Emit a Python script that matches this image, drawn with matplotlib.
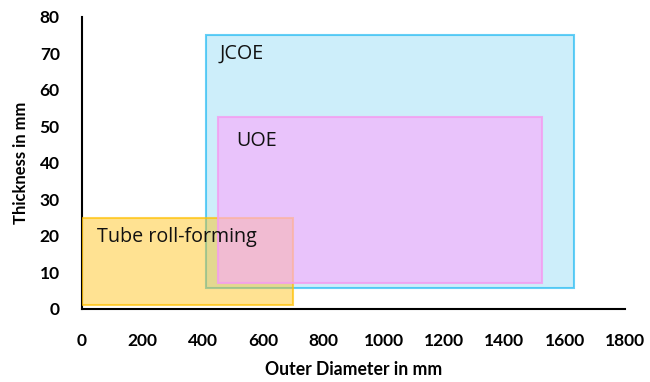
import matplotlib.pyplot as plt
from matplotlib.patches import Rectangle

plt.rcParams['font.family'] = ['Lato', 'DejaVu Sans']

# Forming process windows: outer diameter range (mm) and thickness range (mm)
processes = ['JCOE', 'Tube roll-forming', 'UOE']
od_min = [410, 0, 450]
od_max = [1630, 700, 1525]
t_min = [5.7, 1, 7]
t_max = [75, 25, 52.6]
label_x = [457, 50, 510]
label_y = [69.9, 19.7, 46]

face_colors = ['#13B2E8', '#FFBF0F', '#FBA9FD']
face_alpha = [0.21, 0.45, 0.61]
edge_colors = ['#00B0F0', '#FFC000', '#F49CF0']
edge_alpha = [0.6, 0.7, 0.8]

fig = plt.figure(figsize=(6.5, 3.82), dpi=100, facecolor='white')
ax = fig.add_axes([0.1262, 0.1911, 0.8353, 0.7644])

for i, name in enumerate(processes):
    w = od_max[i] - od_min[i]
    h = t_max[i] - t_min[i]
    ax.add_patch(Rectangle((od_min[i], t_min[i]), w, h,
                           facecolor=face_colors[i], alpha=face_alpha[i],
                           edgecolor='none', zorder=2 + i))
    ax.add_patch(Rectangle((od_min[i], t_min[i]), w, h,
                           facecolor='none', edgecolor=edge_colors[i],
                           alpha=edge_alpha[i], linewidth=1.5, zorder=2 + i))
    ax.text(label_x[i], label_y[i], name, fontsize=14.2, color='#111111',
            family=['Open Sans', 'DejaVu Sans'],
            ha='left', va='center', zorder=10)

ax.set_xlim(0, 1800)
ax.set_ylim(0, 80)
ax.set_xticks(range(0, 1801, 200))
ax.set_yticks(range(0, 81, 10))

for side in ['top', 'right']:
    ax.spines[side].set_visible(False)
for side in ['left', 'bottom']:
    ax.spines[side].set_color('black')
    ax.spines[side].set_linewidth(1.5)

ax.tick_params(axis='both', length=0, labelsize=12.5)
ax.tick_params(axis='x', pad=17)
ax.tick_params(axis='y', pad=16)
for lbl in ax.get_xticklabels() + ax.get_yticklabels():
    lbl.set_fontweight('bold')

ax.set_xlabel('Outer Diameter in mm', fontsize=12.7, fontweight='bold', labelpad=9)
ax.set_ylabel('Thickness in mm', fontsize=12, fontweight='bold', labelpad=8)

fig.savefig('out.png', dpi=100)
